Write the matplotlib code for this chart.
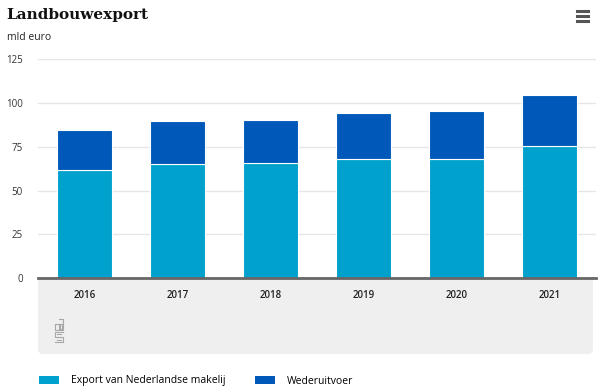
import matplotlib
matplotlib.use('Agg')
import matplotlib.pyplot as plt
from matplotlib.patches import FancyBboxPatch, Patch, Rectangle
from matplotlib.lines import Line2D
from matplotlib.transforms import IdentityTransform
import numpy as np

years = ['2016', '2017', '2018', '2019', '2020', '2021']
eigen = [61.9, 65.1, 65.7, 68.3, 68.3, 75.6]        # export van Nederlandse makelij
wederuitvoer = [22.8, 24.4, 24.4, 26.2, 27.4, 28.8]
series_labels = ['Export van Nederlandse makelij', 'Wederuitvoer']
yticks = [0, 25, 50, 75, 100, 125]

LIGHT = '#00a1cd'
DARK = '#0058b8'
SANS = 'Open Sans'

W, H = 599, 389
fig = plt.figure(figsize=(W / 100, H / 100), dpi=100)

# plot area in pixels: x 38..596, y 59..278
ax = fig.add_axes([38 / W, (H - 278) / H, (596 - 38) / W, (278 - 59.3) / H])
ax.set_zorder(2)
ax.set_facecolor('white')

xs = np.arange(len(years))
ax.bar(xs, eigen, width=0.6, color=LIGHT, edgecolor='white', linewidth=0.8, zorder=3)
ax.bar(xs, wederuitvoer, bottom=eigen, width=0.6, color=DARK, edgecolor='white',
       linewidth=0.8, zorder=3)

ax.set_xlim(-0.5, len(years) - 0.5)
ax.set_ylim(0, 125)
ax.set_yticks(yticks)
ax.set_yticklabels([str(t) for t in yticks], fontsize=7, color='#333', family=SANS)
ax.set_xticks(xs)
ax.set_xticklabels(years, fontsize=7, color='#222', family=SANS, fontweight='semibold')
ax.tick_params(axis='y', length=0, pad=11)
ax.tick_params(axis='x', length=0, pad=9)
ax.grid(axis='y', color='#e6e6e6', lw=1, zorder=0)
ax.set_axisbelow(True)
for s in ('top', 'right', 'left'):
    ax.spines[s].set_visible(False)
ax.spines['bottom'].set_color('#666666')
ax.spines['bottom'].set_linewidth(2)
ax.spines['bottom'].set_zorder(4)

# grey panel under the x axis (top hidden behind the axes)
panel = FancyBboxPatch((38, H - 354), 596 - 38 - 3, 100, boxstyle='round,pad=0,rounding_size=5',
                       transform=IdentityTransform(), facecolor='#efefef', edgecolor='none', zorder=1)
fig.add_artist(panel)

# cbs logo (rough outline)
logo = [
    [(54, 323), (58, 323), (58, 329), (54, 329), (54, 323)],
    [(58, 318), (62, 318), (62, 329), (58, 329)],
    [(59, 323), (61, 323), (61, 328), (59, 328), (59, 323)],
    [(62, 331), (54, 331), (54, 336), (62, 336), (62, 341), (54, 341)],
    [(56, 333), (60, 333)],
    [(56, 339), (60, 339)],
]
for pts in logo:
    px, py = zip(*pts)
    fig.add_artist(Line2D([p + 0.5 for p in px], [H - p - 0.5 for p in py],
                          transform=IdentityTransform(), color='#a8a8a8', lw=0.8, zorder=3))

# hamburger menu
for yy in (11, 16, 21):
    fig.add_artist(Line2D([577, 588], [H - yy, H - yy], transform=IdentityTransform(),
                          color='#555555', lw=2.2, zorder=3))

fig.text(6 / W, 1 - 15 / H, 'Landbouwexport', fontsize=11, fontweight='bold',
         family='DejaVu Serif', va='center', ha='left', color='#111')
fig.text(7 / W, 1 - 38 / H, 'mld euro', fontsize=7.5, family=SANS, va='center', ha='left',
         color='#222')

handles = [Patch(facecolor=LIGHT), Patch(facecolor=DARK)]
fig.legend(handles, series_labels, loc='center left', bbox_to_anchor=(30 / W, 1 - 381 / H),
           ncol=2, frameon=False, handlelength=1.9, handleheight=0.8,
           handletextpad=1.1, columnspacing=2.9, prop={'family': SANS, 'size': 7.5})

fig.savefig('out.png', dpi=100)
